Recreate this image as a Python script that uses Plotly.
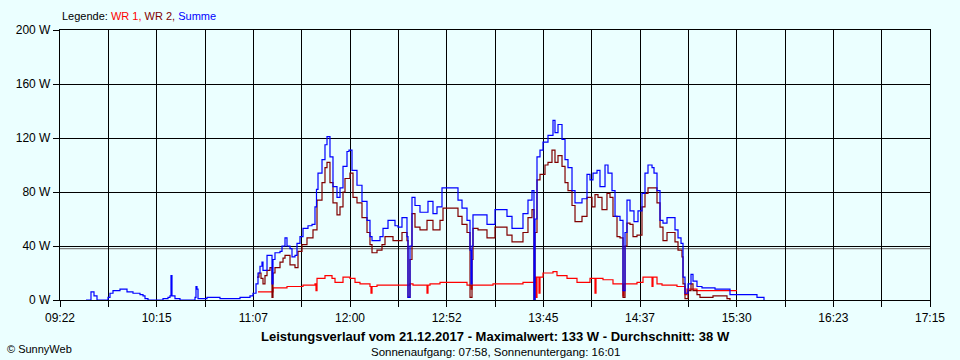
import plotly.graph_objects as go

# ---------------- data ----------------
x_range = ["09:22", "17:15"]
tick_labels = ["09:22", "10:15", "11:07", "12:00", "12:52", "13:45", "14:37", "15:30", "16:23", "17:15"]
y_ticks = [0, 40, 80, 120, 160, 200]
average_w = 38

summe_t = ["09:36:08", "09:38:19", "09:38:51", "09:39:56", "09:40:29", "09:41:34", "09:42:07", "09:47:33",
           "09:48:06", "09:49:11", "09:50:49", "09:54:37", "09:58:26", "10:01:41", "10:05:30", "10:07:08",
           "10:08:13", "10:09:50", "10:18:00", "10:20:43", "10:21:48", "10:22:21", "10:22:53", "10:24:31",
           "10:27:14", "10:35:24", "10:35:56", "10:36:29", "10:37:02", "10:41:55", "10:48:59", "10:54:26",
           "10:59:52", "11:03:40", "11:05:18", "11:06:56", "11:08:34", "11:09:39", "11:10:44", "11:11:49",
           "11:12:22", "11:14:33", "11:16:10", "11:17:16", "11:17:48", "11:18:53", "11:21:37", "11:22:42",
           "11:24:20", "11:25:25", "11:27:03", "11:28:08", "11:29:46", "11:30:51", "11:32:29", "11:34:07",
           "11:36:50", "11:39:01", "11:40:38", "11:41:27", "11:42:16", "11:44:27", "11:46:04", "11:47:10",
           "11:48:47", "11:50:25", "11:52:36", "11:54:14", "11:55:52", "11:58:02", "11:59:07", "12:00:45",
           "12:03:28", "12:06:11", "12:08:55", "12:10:32", "12:11:38", "12:14:21", "12:15:59", "12:17:37",
           "12:20:20", "12:22:30", "12:24:08", "12:25:46", "12:27:56", "12:29:34", "12:30:39", "12:31:12",
           "12:32:17", "12:33:22", "12:35:00", "12:37:43", "12:39:21", "12:42:04", "12:43:10", "12:44:47",
           "12:46:58", "12:49:41", "12:56:45", "12:58:23", "13:00:34", "13:02:11", "13:03:17", "13:04:55",
           "13:05:27", "13:06:00", "13:06:32", "13:11:59", "13:14:09", "13:15:47", "13:18:30", "13:22:18",
           "13:25:01", "13:27:45", "13:32:05", "13:33:43", "13:36:26", "13:38:37", "13:39:42", "13:40:15",
           "13:41:20", "13:42:58", "13:44:36", "13:47:19", "13:50:02", "13:51:07", "13:52:45", "13:54:56",
           "13:56:34", "13:58:11", "14:00:22", "14:02:00", "14:03:38", "14:05:48", "14:08:31", "14:10:09",
           "14:11:47", "14:13:58", "14:15:35", "14:18:19", "14:19:56", "14:22:07", "14:23:45", "14:26:28",
           "14:28:06", "14:29:11", "14:30:16", "14:31:54", "14:34:04", "14:36:15", "14:38:25", "14:40:03",
           "14:41:41", "14:43:52", "14:44:57", "14:46:35", "14:48:13", "14:49:50", "14:52:01", "14:54:44",
           "14:56:22", "14:58:00", "14:59:38", "15:00:43", "15:01:48", "15:03:26", "15:05:04", "15:06:09",
           "15:08:19", "15:11:02", "15:18:07", "15:24:38", "15:26:16", "15:40:56", "15:44:12", "15:44:45"]
summe_w = [0, 0, 6, 6, 3, 3, 0, 0,
           2, 5, 7, 8, 6, 5, 4, 3,
           1, 0, 1, 2, 3, 18, 3, 1,
           0, 2, 10, 8, 1, 2, 1, 1,
           2, 2, 3, 5, 12, 20, 25, 28,
           22, 33, 33, 12, 30, 35, 36, 40,
           46, 40, 38, 32, 33, 42, 47, 53,
           55, 56, 69, 82, 94, 104, 115, 121,
           106, 84, 76, 83, 99, 110, 111, 96,
           85, 73, 59, 47, 44, 44, 47, 53,
           59, 59, 55, 54, 61, 61, 47, 2,
           40, 76, 70, 65, 65, 73, 73, 64,
           69, 83, 83, 74, 68, 68, 59, 37,
           12, 40, 63, 63, 56, 56, 67, 67,
           62, 53, 53, 64, 74, 81, 0, 60,
           106, 111, 117, 122, 133, 124, 130, 119,
           104, 98, 81, 72, 72, 75, 93, 89,
           94, 96, 84, 100, 94, 81, 62, 59,
           7, 50, 74, 66, 58, 66, 79, 94,
           100, 98, 94, 81, 59, 57, 61, 61,
           52, 46, 42, 17, 5, 12, 19, 14,
           10, 9, 8, 8, 4, 2, 2, 0]

wr2_t = ["11:09:06", "11:10:11", "11:11:17", "11:12:22", "11:13:27", "11:14:33", "11:16:10", "11:17:16",
         "11:17:48", "11:18:53", "11:21:37", "11:23:15", "11:24:20", "11:25:58", "11:27:03", "11:29:46",
         "11:31:24", "11:33:34", "11:36:17", "11:37:55", "11:39:33", "11:41:44", "11:44:27", "11:46:04",
         "11:47:10", "11:48:47", "11:50:25", "11:52:36", "11:54:14", "11:55:52", "11:56:57", "11:58:35",
         "11:59:40", "12:01:18", "12:03:28", "12:06:11", "12:08:55", "12:10:32", "12:11:38", "12:13:16",
         "12:14:21", "12:15:59", "12:17:04", "12:18:42", "12:22:30", "12:23:03", "12:25:46", "12:27:56",
         "12:29:34", "12:30:39", "12:31:12", "12:32:17", "12:33:22", "12:35:00", "12:36:38", "12:37:43",
         "12:39:21", "12:41:32", "12:43:10", "12:44:47", "12:46:58", "12:48:36", "12:50:14", "12:56:45",
         "12:58:23", "13:00:34", "13:02:11", "13:03:17", "13:04:55", "13:06:00", "13:06:32", "13:09:16",
         "13:11:59", "13:14:09", "13:15:47", "13:18:30", "13:22:51", "13:25:01", "13:27:45", "13:32:05",
         "13:33:43", "13:36:26", "13:38:37", "13:39:42", "13:40:15", "13:41:20", "13:42:58", "13:45:41",
         "13:47:19", "13:49:29", "13:51:07", "13:52:45", "13:54:56", "13:56:34", "13:58:11", "14:00:22",
         "14:02:00", "14:03:38", "14:05:48", "14:08:31", "14:11:14", "14:12:52", "14:14:30", "14:16:40",
         "14:19:23", "14:21:01", "14:22:39", "14:24:50", "14:26:28", "14:28:06", "14:29:11", "14:30:16",
         "14:31:54", "14:33:32", "14:35:42", "14:38:25", "14:40:03", "14:41:41", "14:44:24", "14:46:35",
         "14:48:13", "14:49:50", "14:52:01", "14:54:44", "14:56:22", "14:58:00", "15:00:10", "15:00:43",
         "15:01:48", "15:03:26", "15:05:04", "15:06:09", "15:08:19", "15:09:57", "15:17:01", "15:22:27",
         "15:24:38", "15:26:16"]
wr2_w = [17, 20, 16, 12, 18, 22, 24, 2,
         20, 24, 28, 31, 33, 33, 26, 24,
         36, 41, 46, 46, 52, 74, 87, 98,
         102, 87, 72, 63, 69, 80, 90, 90,
         94, 76, 72, 61, 50, 41, 35, 35,
         37, 37, 41, 47, 47, 44, 44, 50,
         50, 44, 2, 30, 64, 54, 54, 52,
         52, 59, 59, 52, 52, 59, 68, 68,
         62, 56, 56, 50, 2, 30, 53, 52,
         52, 46, 46, 54, 54, 48, 43, 43,
         50, 61, 67, 0, 50, 89, 93, 100,
         102, 111, 102, 107, 99, 87, 81, 70,
         58, 58, 62, 76, 69, 78, 76, 67,
         79, 76, 62, 47, 46, 2, 40, 57,
         56, 47, 48, 69, 79, 83, 83, 72,
         54, 44, 50, 50, 43, 37, 32, 12,
         1, 7, 12, 7, 4, 2, 3, 3,
         1, 0]

wr1_t = ["11:09:39", "11:16:10", "11:17:48", "11:25:25", "11:34:07", "11:40:38", "11:41:11", "11:41:44",
         "11:46:04", "11:48:15", "11:49:53", "11:51:31", "11:55:52", "11:59:40", "12:02:23", "12:05:06",
         "12:10:32", "12:11:05", "12:11:38", "12:14:21", "12:32:17", "12:33:55", "12:41:32", "12:42:04",
         "12:43:10", "12:48:36", "13:01:06", "13:03:17", "13:05:27", "13:06:00", "13:17:25", "13:32:05",
         "13:33:43", "13:40:15", "13:40:47", "13:41:20", "13:42:25", "13:42:58", "13:44:36", "13:50:02",
         "13:52:12", "13:57:39", "14:03:05", "14:10:09", "14:12:52", "14:13:25", "14:17:13", "14:22:39",
         "14:28:06", "14:28:38", "14:35:42", "14:38:58", "14:43:52", "14:44:24", "14:46:35", "14:49:18",
         "14:57:27", "15:01:48", "15:02:53", "15:08:19", "15:30:04"]
wr1_w = [6, 6, 9, 10, 11, 12, 7, 16,
         18, 18, 16, 13, 17, 16, 13, 12,
         10, 5, 10, 11, 12, 11, 5, 11,
         12, 13, 13, 11, 8, 11, 12, 12,
         13, 17, 2, 17, 5, 17, 20, 21,
         18, 16, 13, 16, 5, 16, 15, 12,
         3, 12, 13, 17, 10, 17, 12, 11,
         10, 4, 8, 7, 7]


def to_min(s):
    p = [int(v) for v in s.split(":")]
    while len(p) < 3:
        p.append(0)
    return p[0] * 60 + p[1] + p[2] / 60.0


BG = "#EBFFFF"
FONT = "Liberation Sans, Arial, sans-serif"

x0, x1 = to_min(x_range[0]), to_min(x_range[1])
n = len(tick_labels) - 1
grid_vals = [x0 + k * (x1 - x0) / (2 * n) for k in range(2 * n + 1)]
grid_text = [tick_labels[k // 2] if k % 2 == 0 else "" for k in range(2 * n + 1)]

fig = go.Figure()
fig.add_trace(go.Scatter(x=[to_min(t) for t in wr1_t], y=wr1_w, mode="lines", name="WR 1",
                         line=dict(color="#FF0000", width=1.2, shape="hv")))
fig.add_trace(go.Scatter(x=[to_min(t) for t in wr2_t], y=wr2_w, mode="lines", name="WR 2",
                         line=dict(color="#800000", width=1.2, shape="hv")))
fig.add_trace(go.Scatter(x=[to_min(t) for t in summe_t], y=summe_w, mode="lines", name="Summe",
                         line=dict(color="#0000FF", width=1.2, shape="hv")))

fig.add_shape(type="line", xref="x", yref="y", x0=x0, x1=x1, y0=average_w, y1=average_w,
              line=dict(color="#808080", width=1.3), layer="below")

fig.update_layout(
    width=960, height=360,
    margin=dict(l=60, r=30, t=30, b=60),
    paper_bgcolor=BG, plot_bgcolor=BG,
    showlegend=False,
    font=dict(family=FONT, size=12, color="black"),
    xaxis=dict(range=[x0, x1], tickmode="array", tickvals=grid_vals, ticktext=grid_text,
               showgrid=True, gridcolor="black", gridwidth=1.3,
               showline=True, linecolor="black", linewidth=1.3, mirror=True,
               ticks="outside", ticklen=6, tickcolor="black", tickwidth=1.3,
               zeroline=False, fixedrange=True),
    yaxis=dict(range=[0, 200], tickmode="array", tickvals=y_ticks,
               ticktext=[f"{v} W" for v in y_ticks],
               showgrid=True, gridcolor="black", gridwidth=1.3,
               showline=True, linecolor="black", linewidth=1.3, mirror=True,
               ticks="outside", ticklen=6, tickcolor="black", tickwidth=1.3,
               zeroline=False, fixedrange=True),
)

fig.add_annotation(xref="paper", yref="paper", x=0, y=1.052, xanchor="left", yanchor="middle",
                   showarrow=False, font=dict(size=11),
                   text="Legende: <span style='color:#FF0000'>WR 1,</span> "
                        "<span style='color:#800000'>WR 2,</span> "
                        "<span style='color:#0000FF'>Summe</span>")
fig.add_annotation(xref="paper", yref="paper", x=0.5, y=-0.134, xanchor="center", yanchor="middle",
                   showarrow=False, font=dict(size=13),
                   text=f"<b>Leistungsverlauf vom 21.12.2017 - Maximalwert: {max(summe_w)} W - "
                        f"Durchschnitt: {average_w} W</b>")
fig.add_annotation(xref="paper", yref="paper", x=0.5, y=-0.194, xanchor="center", yanchor="middle",
                   showarrow=False, font=dict(size=11.5),
                   text="Sonnenaufgang: 07:58, Sonnenuntergang: 16:01")
fig.add_annotation(xref="paper", yref="paper", x=-0.0632, y=-0.182, xanchor="left", yanchor="middle",
                   showarrow=False, font=dict(size=11),
                   text="© SunnyWeb")

fig.write_html("out.html", config={"displayModeBar": False},
               post_script="document.body.style.margin='0';document.body.style.background='" + BG + "';")
